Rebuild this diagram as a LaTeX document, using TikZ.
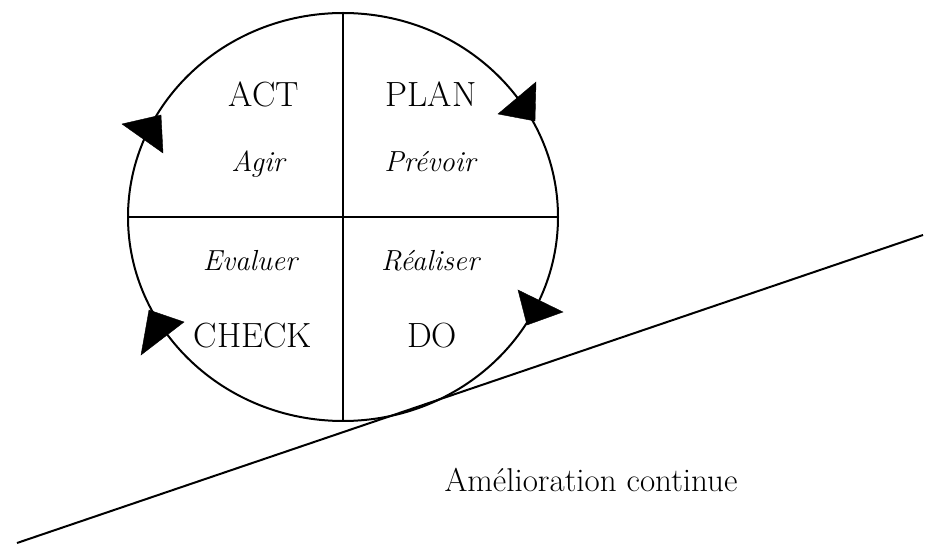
\documentclass[tikz,border=0pt]{standalone}
\usetikzlibrary{shapes.geometric}

\tikzset{
  rim/.style={draw=black, line width=2pt},
  divider/.style={draw=black, line width=1.6pt},
  slope/.style={draw=black, line width=2pt},
  head/.style={fill=black, draw=black, line width=0.4pt, line join=miter},
  phase/.style={anchor=base, inner sep=0pt, font=\fontsize{35}{42}\selectfont},
  verb/.style={anchor=base, inner sep=0pt, font=\fontsize{29}{35}\selectfont\itshape},
  caption/.style={anchor=base, inner sep=0pt, font=\fontsize{33}{40}\selectfont},
}

\begin{document}
\begin{tikzpicture}[x=1pt, y=-1pt]
  \useasboundingbox (0,0) rectangle (938,545);

  % the PDCA wheel
  \node (wheel) [ellipse, rim, minimum width=430pt, minimum height=408pt, inner sep=0pt]
    at (343,217) {};
  \draw[divider] (wheel.north) -- (wheel.south);
  \draw[divider] (wheel.west) -- (wheel.east);

  % slope of continuous improvement
  \coordinate (slopeLow) at (17,543);
  \coordinate (slopeHigh) at (923,235);
  \draw[slope] (slopeLow) -- (slopeHigh);

  % direction marks on the rim
  \filldraw[head] (122,124) -- (161,115) -- (163,153) -- cycle;
  \filldraw[head] (498,114) -- (536,82) -- (535,121) -- cycle;
  \filldraw[head] (518,290) -- (563,312) -- (527,325) -- cycle;
  \filldraw[head] (149,310) -- (184,322) -- (141,355) -- cycle;

  % quadrant labels
  \node (act)   [phase] at (264,107) {ACT};
  \node (plan)  [phase] at (431,107) {PLAN};
  \node (check) [phase] at (253,348) {CHECK};
  \node (do)    [phase] at (432,348) {DO};

  \node (agir)     [verb] at (258,172) {Agir};
  \node (prevoir)  [verb] at (430,172) {Pr\'evoir};
  \node (evaluer)  [verb] at (250,271) {Evaluer};
  \node (realiser) [verb] at (430,271) {R\'ealiser};

  \node (amelio) [caption] at (591,492) {Am\'elioration continue};
\end{tikzpicture}
\end{document}
